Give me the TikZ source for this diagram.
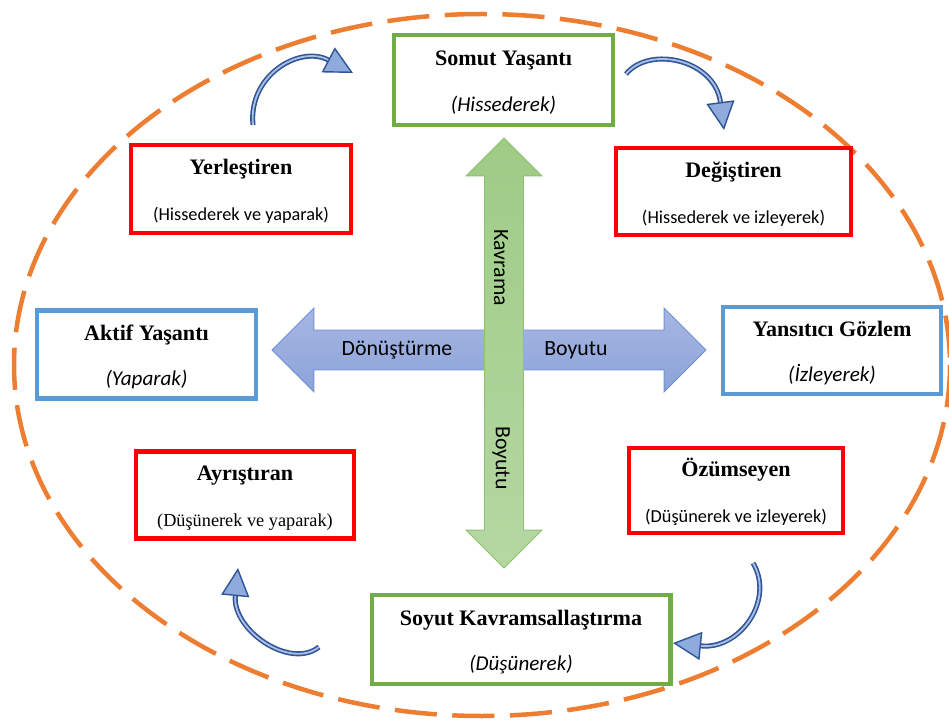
\documentclass[tikz,border=0pt]{standalone}
\usepackage{fontspec}
\setmainfont{Liberation Serif}
\newfontfamily\calibri{Carlito}
\usepackage{tikz}
\usetikzlibrary{shapes.arrows,arrows.meta,positioning}

\definecolor{boxgreen}{HTML}{70AD47}
\definecolor{boxred}{HTML}{FF0000}
\definecolor{boxblue}{HTML}{5B9BD5}
\definecolor{cycleorange}{HTML}{ED7D31}
\definecolor{arrowdark}{HTML}{2F5597}
\definecolor{arrowlight}{HTML}{8FAADC}
\definecolor{dimbluetop}{HTML}{A6B7E3}
\definecolor{dimbluebot}{HTML}{8CA3D9}
\definecolor{dimblueline}{HTML}{7391D2}
\definecolor{dimgreenleft}{HTML}{9ECB86}
\definecolor{dimgreenright}{HTML}{B5D8A2}
\definecolor{dimgreenline}{HTML}{8DC271}

\newcommand{\boxtitle}[1]{{\fontsize{15.7}{32.5}\selectfont\bfseries\rule{0pt}{14.5pt}#1}}
\newcommand{\subitalic}[1]{{\calibri\itshape\fontsize{15}{32.5}\selectfont #1}}
\newcommand{\subplain}[1]{{\calibri\fontsize{13}{32.5}\selectfont #1}}
\newcommand{\subserif}[1]{{\fontsize{13}{32.5}\selectfont #1}}

\begin{document}
\begin{tikzpicture}[
    x=0.025cm, y=-0.025cm,
    stagebox/.style={
        rectangle,
        draw,
        line width=3.5pt,
        fill=white,
        inner sep=0pt,
        align=center,
        font=\fontsize{13}{32.5}\selectfont
    },
    greenbox/.style={stagebox, draw=boxgreen},
    redbox/.style={stagebox, draw=boxred},
    bluebox/.style={stagebox, draw=boxblue},
    dimarrow/.style={
        double arrow,
        double arrow tip angle=90,
        inner xsep=0pt,
        line width=0.6pt
    },
    dimlabel/.style={font=\calibri\fontsize{15.5}{18}\selectfont},
    curvearrow/.style={
        draw=arrowdark,
        line width=3.6pt,
        -{Triangle[length=20pt,width=20pt,fill=arrowlight,line width=1pt]},
        postaction={draw=arrowlight!75!white, line width=1.3pt, -, shorten >=20pt}
    }
]
\useasboundingbox (0,0) rectangle (949,722);

% Outer cycle
\draw[cycleorange, line width=3.2pt, dash pattern=on 30pt off 11pt]
    (482,365) ellipse [x radius=468, y radius=351];

% Dimension arrows
\node[dimarrow, draw=dimblueline, top color=dimbluetop, bottom color=dimbluebot,
      minimum height=10.85cm, inner ysep=0.4875cm,
      double arrow head extend=0.55cm] (transform) at (489,350) {};
\node[dimarrow, draw=dimgreenline, rotate=90, top color=dimgreenleft, bottom color=dimgreenright,
      minimum height=10.75cm, inner ysep=0.475cm,
      double arrow head extend=0.4625cm] (grasp) at (504,353) {};

\node[dimlabel] (transformL) at (397,350) {Dönüştürme};
\node[dimlabel] (transformR) at (576,350) {Boyutu};
\node[dimlabel, rotate=-90] (graspT) at (501,268) {Kavrama};
\node[dimlabel, rotate=-90] (graspB) at (501,458) {Boyutu};

% Learning modes
\node[greenbox, minimum width=5.475cm, minimum height=2.25cm] (somut) at (503.5,80) {
    \boxtitle{Somut Yaşantı}\\\subitalic{(Hissederek)}
};
\node[greenbox, minimum width=7.45cm, minimum height=2.225cm] (soyut) at (521,639.5) {
    \boxtitle{Soyut Kavramsallaştırma}\\\subitalic{(Düşünerek)}
};
\node[bluebox, minimum width=5.475cm, minimum height=2.2cm] (aktif) at (146.5,354.5) {
    \boxtitle{Aktif Yaşantı}\\\subitalic{(Yaparak)}
};
\node[bluebox, minimum width=5.45cm, minimum height=2.175cm] (yansitici) at (832,350.5) {
    \boxtitle{Yansıtıcı Gözlem}\\\subitalic{(İzleyerek)}
};

% Learning styles
\node[redbox, minimum width=5.5cm, minimum height=2.2cm] (yerlestiren) at (241,189) {
    \boxtitle{Yerleştiren}\\\subplain{(Hissederek ve yaparak)}
};
\node[redbox, minimum width=5.875cm, minimum height=2.175cm] (degistiren) at (733.5,191.5) {
    \boxtitle{Değiştiren}\\\subplain{(Hissederek ve izleyerek)}
};
\node[redbox, minimum width=5.45cm, minimum height=2.175cm] (ayristiran) at (245,495) {
    \boxtitle{Ayrıştıran}\\\subserif{(Düşünerek ve yaparak)}
};
\node[redbox, minimum width=5.35cm, minimum height=2.125cm] (ozumseyen) at (736,490.5) {
    \boxtitle{Özümseyen}\\\subplain{(Düşünerek ve izleyerek)}
};

% Cycle arrows
\coordinate (c1s) at (253,125);
\coordinate (c1e) at (353,73);
\coordinate (c2s) at (626,74);
\coordinate (c2e) at (724,130);
\coordinate (c3s) at (753,563);
\coordinate (c3e) at (673,643);
\coordinate (c4s) at (319,647);
\coordinate (c4e) at (238,568);

\draw[curvearrow] (c1s) .. controls (248,75) and (300,45) .. (c1e);
\draw[curvearrow] (c2s) .. controls (650,45) and (715,60) .. (c2e);
\draw[curvearrow] (c3s) .. controls (775,600) and (740,650) .. (c3e);
\draw[curvearrow] (c4s) .. controls (290,670) and (232,630) .. (c4e);

\end{tikzpicture}
\end{document}
